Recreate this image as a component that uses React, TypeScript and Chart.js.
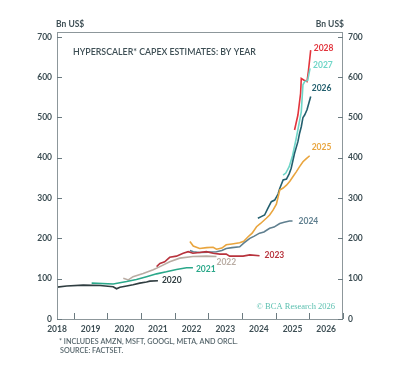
import React, { useEffect, useRef } from "react";
import { Chart, registerables } from "chart.js";

Chart.register(...registerables);

const X_LABELS = [2018, 2019, 2020, 2021, 2022, 2023, 2024, 2025, 2026];
const X_MARKS = [2018.5, 2019.5, 2020.5, 2021.5, 2022.5, 2023.5, 2024.5, 2025.5, 2026.5];
const Y_TICKS = [0, 100, 200, 300, 400, 500, 600, 700];

const T2020 = [2018.0, 2018.29, 2018.78, 2019.28, 2019.67, 2019.77, 2019.87, 2020.07, 2020.26, 2020.46, 2020.66, 2020.76, 2021.0];
const V2020 = [79, 82, 84, 83, 80, 75, 79, 82, 85, 89, 92, 94, 95];

const T2021 = [2019.03, 2019.67, 2019.87, 2020.07, 2020.36, 2020.66, 2020.96, 2021.25, 2021.55, 2021.85, 2022.04];
const V2021 = [89, 87, 90, 93, 98, 105, 112, 117, 123, 127, 127];

const T2022 = [2019.97, 2020.12, 2020.26, 2020.56, 2020.86, 2021.06, 2021.35, 2021.65, 2022.04, 2022.44, 2022.74];
const V2022 = [101, 97, 105, 113, 122, 130, 142, 151, 155, 156, 155];

const T2023 = [2020.96, 2021.06, 2021.2, 2021.35, 2021.55, 2021.75, 2021.9, 2022.04, 2022.24, 2022.44, 2022.64, 2022.84, 2023.03, 2023.13, 2023.53, 2023.73, 2024.02];
const V2023 = [130, 138, 142, 153, 156, 163, 167, 163, 165, 167, 163, 161, 161, 156, 156, 159, 157];

const T2024 = [2021.95, 2022.05, 2022.24, 2022.5, 2022.74, 2022.9, 2023.03, 2023.2, 2023.43, 2023.55, 2023.73, 2023.85, 2024.02, 2024.15, 2024.32, 2024.45, 2024.62, 2024.75, 2024.91, 2025.0];
const V2024 = [170, 167, 165, 166, 167, 170, 175, 177, 179, 188, 200, 205, 213, 216, 225, 228, 237, 240, 243, 243];

const T2025 = [2021.95, 2022.05, 2022.24, 2022.45, 2022.64, 2022.74, 2022.9, 2023.03, 2023.2, 2023.43, 2023.55, 2023.68, 2023.8, 2023.93, 2024.05, 2024.22, 2024.32, 2024.42, 2024.52, 2024.62, 2024.72, 2024.82, 2024.92, 2025.01, 2025.11, 2025.21, 2025.31, 2025.41, 2025.51];
const V2025 = [192, 181, 175, 177, 178, 173, 176, 184, 186, 189, 193, 204, 213, 229, 237, 250, 258, 270, 285, 320, 325, 332, 342, 353, 365, 378, 390, 398, 405];

const T2026 = [2023.97, 2024.07, 2024.17, 2024.27, 2024.37, 2024.47, 2024.57, 2024.62, 2024.72, 2024.82, 2024.9, 2024.96, 2025.06, 2025.16, 2025.21, 2025.26, 2025.31, 2025.36, 2025.43, 2025.54];
const V2026 = [250, 254, 258, 275, 291, 295, 310, 324, 345, 347, 360, 374, 411, 440, 461, 477, 500, 506, 519, 552];

const T2027 = [2024.72, 2024.8, 2024.9, 2025.0, 2025.1, 2025.16, 2025.26, 2025.31, 2025.36, 2025.45, 2025.52];
const V2027 = [357, 362, 378, 405, 444, 470, 514, 581, 589, 592, 622];

const T2028 = [2025.06, 2025.16, 2025.24, 2025.26, 2025.33, 2025.43, 2025.47, 2025.54];
const V2028 = [469, 506, 560, 597, 593, 589, 614, 667];

const SERIES_NAMES = ["2020", "2021", "2022", "2023", "2024", "2025", "2026", "2027", "2028"];
const SERIES_T = [T2020, T2021, T2022, T2023, T2024, T2025, T2026, T2027, T2028];
const SERIES_V = [V2020, V2021, V2022, V2023, V2024, V2025, V2026, V2027, V2028];
const COLORS = ["#2f3d40", "#2aa88a", "#b9aca3", "#b8333d", "#5f7f8f", "#e9a53e", "#235f6e", "#6fd6c8", "#e2343c"];
// label offsets in px relative to each series' last point
const LABEL_DX = [4, 3, 0, 5, 6, 2, 1, 3, 3];
const LABEL_DY = [0, 1, 6, 0, 0, -8, -8, -3, -2];

const FONT = "Lato, 'Open Sans', sans-serif";
const TEXT = "#3e4f55";
const FRAME = "#8d979b";

const decorPlugin = {
  id: "decor",
  afterDatasetsDraw(chart: any) {
    const { ctx, chartArea: a, scales } = chart;
    const x = scales.x;
    const y = scales.y;
    ctx.save();
    // frame
    ctx.strokeStyle = FRAME;
    ctx.lineWidth = 1;
    ctx.strokeRect(a.left + 0.5, a.top + 0.5, a.right - a.left - 1, a.bottom - a.top);
    // inward ticks
    ctx.strokeStyle = "#6b7a80";
    ctx.beginPath();
    Y_TICKS.forEach((v) => {
      const py = Math.round(y.getPixelForValue(v)) + 0.5;
      ctx.moveTo(a.left, py);
      ctx.lineTo(a.left + 5, py);
      ctx.moveTo(a.right, py);
      ctx.lineTo(a.right - 5, py);
    });
    X_MARKS.forEach((v) => {
      const px = Math.round(x.getPixelForValue(v)) + 0.5;
      ctx.moveTo(px, a.bottom);
      ctx.lineTo(px, a.bottom - 6);
    });
    ctx.stroke();
    // series labels
    ctx.font = `bold 8.5px ${FONT}`;
    ctx.textAlign = "left";
    ctx.textBaseline = "middle";
    chart.data.datasets.forEach((ds: any, i: number) => {
      const last = ds.data[ds.data.length - 1];
      const px = x.getPixelForValue(last.x) + LABEL_DX[i];
      const py = y.getPixelForValue(last.y) + LABEL_DY[i];
      ctx.fillStyle = COLORS[i];
      ctx.fillText(SERIES_NAMES[i], px, py);
    });
    // title
    ctx.fillStyle = TEXT;
    ctx.font = `600 8.8px ${FONT}`;
    ctx.textBaseline = "middle";
    ctx.fillText("HYPERSCALER* CAPEX ESTIMATES: BY YEAR", a.left + 16, a.top + 20);
    // axis unit labels
    ctx.font = `bold 8.5px ${FONT}`;
    ctx.textAlign = "left";
    ctx.fillText("Bn US$", a.left - 1, 24);
    ctx.textAlign = "right";
    ctx.fillText("Bn US$", a.right + 1, 24);
    // copyright
    ctx.fillStyle = "#5cc0b0";
    ctx.font = "8.5px 'Liberation Serif', serif";
    ctx.textAlign = "right";
    ctx.fillText("© BCA Research 2026", a.right - 8, a.bottom - 12);
    // footnotes
    ctx.fillStyle = "#55656b";
    ctx.font = `600 7.2px ${FONT}`;
    ctx.textAlign = "left";
    ctx.fillText("* INCLUDES AMZN, MSFT, GOOGL, META, AND ORCL.", 59, 342);
    ctx.fillText("SOURCE: FACTSET.", 60, 351);
    ctx.restore();
  },
};

export default function App() {
  const ref = useRef<HTMLCanvasElement | null>(null);
  useEffect(() => {
    if (!ref.current) return;
    const datasets = SERIES_NAMES.map((n, i) => ({
      label: n,
      data: SERIES_T[i].map((t, j) => ({ x: t, y: SERIES_V[i][j] })),
      borderColor: COLORS[i],
      backgroundColor: COLORS[i],
      borderWidth: 1.6,
      pointRadius: 0,
      tension: 0,
      fill: false,
    }));
    const tickFont = { family: FONT, size: 8.5, weight: "bold" as const };
    const chart = new Chart(ref.current, {
      type: "line",
      data: { datasets },
      plugins: [decorPlugin],
      options: {
        animation: false,
        responsive: false,
        layout: { padding: { left: 0, right: 0, top: 32, bottom: 42 } },
        plugins: { legend: { display: false }, tooltip: { enabled: false }, title: { display: false } },
        scales: {
          x: {
            type: "linear",
            min: 2018,
            max: 2026.5,
            grid: { display: false, drawTicks: false },
            border: { display: false },
            afterBuildTicks: (s: any) => {
              s.ticks = X_LABELS.map((v) => ({ value: v }));
            },
            afterFit: (s: any) => {
              s.height = 20;
            },
            ticks: {
              padding: 5,
              maxRotation: 0,
              autoSkip: false,
              color: TEXT,
              font: tickFont,
              callback: (v: any) => String(v),
            },
          },
          y: {
            type: "linear",
            position: "left",
            min: 0,
            max: 712,
            grid: { display: false, drawTicks: false },
            border: { display: false },
            afterBuildTicks: (s: any) => {
              s.ticks = Y_TICKS.map((v) => ({ value: v }));
            },
            afterFit: (s: any) => {
              s.width = 57;
            },
            ticks: { padding: 5, color: TEXT, font: tickFont, callback: (v: any) => String(v) },
          },
          y2: {
            type: "linear",
            position: "right",
            min: 0,
            max: 712,
            grid: { display: false, drawTicks: false },
            border: { display: false },
            afterBuildTicks: (s: any) => {
              s.ticks = Y_TICKS.map((v) => ({ value: v }));
            },
            afterFit: (s: any) => {
              s.width = 67;
            },
            ticks: { padding: 5, color: TEXT, font: tickFont, callback: (v: any) => String(v) },
          },
        },
      },
    });
    return () => chart.destroy();
  }, []);
  return (
    <div style={{ position: "absolute", left: 0, top: 0, width: 410, height: 381, background: "#fff" }}>
      <canvas ref={ref} width={410} height={381} style={{ width: 410, height: 381, display: "block" }} />
    </div>
  );
}
